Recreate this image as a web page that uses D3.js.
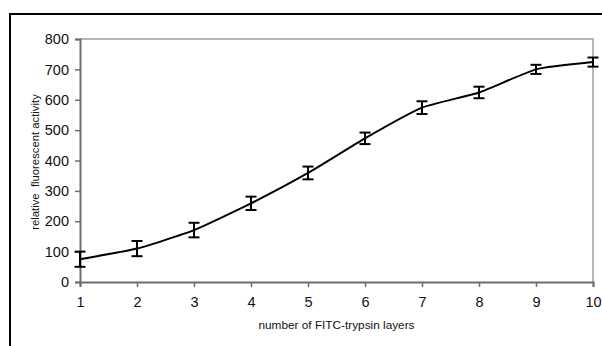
<!DOCTYPE html>
<html>
<head>
<meta charset="utf-8">
<script src="https://cdn.jsdelivr.net/npm/d3@7"></script>
<style>
  body { margin: 0; background: #fff; }
  svg { display: block; font-family: Arial, "Liberation Sans", sans-serif; }
</style>
</head>
<body>
<svg id="chart" width="602" height="346"></svg>
<script>
const layers = [1, 2, 3, 4, 5, 6, 7, 8, 9, 10];
const activity = [75, 110, 171, 259, 359, 473, 574, 624, 700, 724];
const errors = [25, 25, 24, 22, 21, 19, 21, 19, 15, 15];
const yTicks = [0, 100, 200, 300, 400, 500, 600, 700, 800];

const svg = d3.select('#chart'),
  margin = { top: 39, right: 9, bottom: 64, left: 80 },
  width = 602 - margin.left - margin.right,
  height = 346 - margin.top - margin.bottom;

// outer frame
svg.append('rect')
  .attr('x', 10).attr('y', 14)
  .attr('width', 620).attr('height', 360)
  .attr('fill', 'none')
  .attr('stroke', '#000')
  .attr('stroke-width', 2);

const g = svg.append('g').attr('transform', 'translate(' + margin.left + ',' + margin.top + ')');

const x = d3.scaleLinear().domain([1, 10]).range([0, width]);
const y = d3.scaleLinear().domain([0, 800]).range([height, 0]);

// plot area border (top + right)
g.append('path')
  .attr('d', 'M0,0H' + width + 'V' + height)
  .attr('fill', 'none')
  .attr('stroke', '#a0a0a0')
  .attr('stroke-width', 1.5);

const yAxis = g.append('g')
  .call(d3.axisLeft(y).tickValues(yTicks).tickSize(5).tickPadding(6));
const xAxis = g.append('g')
  .attr('transform', 'translate(0,' + height + ')')
  .call(d3.axisBottom(x).tickValues(layers).tickSize(5).tickPadding(10));

[yAxis, xAxis].forEach(function(ax) {
  ax.select('.domain').attr('stroke', '#6e6e6e').attr('stroke-width', 2);
  ax.selectAll('.tick line').attr('stroke', '#6e6e6e').attr('stroke-width', 1.5);
  ax.selectAll('.tick text')
    .attr('fill', '#111')
    .style('font-size', '14.5px')
    .style('font-family', 'Arial, "Liberation Sans", sans-serif');
});

const data = layers.map(function(d, i) { return { x: d, y: activity[i], e: errors[i] }; });

// error bars
const eb = g.selectAll('.err')
  .data(data)
  .enter()
  .append('g')
  .attr('class', 'err')
  .attr('stroke', '#000')
  .attr('stroke-width', 2)
  .attr('fill', 'none');
eb.append('line')
  .attr('x1', function(d) { return x(d.x); })
  .attr('x2', function(d) { return x(d.x); })
  .attr('y1', function(d) { return y(d.y - d.e); })
  .attr('y2', function(d) { return y(d.y + d.e); });
eb.append('line')
  .attr('x1', function(d) { return x(d.x) - 5.5; })
  .attr('x2', function(d) { return x(d.x) + 5.5; })
  .attr('y1', function(d) { return y(d.y + d.e); })
  .attr('y2', function(d) { return y(d.y + d.e); });
eb.append('line')
  .attr('x1', function(d) { return x(d.x) - 5.5; })
  .attr('x2', function(d) { return x(d.x) + 5.5; })
  .attr('y1', function(d) { return y(d.y - d.e); })
  .attr('y2', function(d) { return y(d.y - d.e); });

// lightly smoothed line
const line = d3.line()
  .x(function(d) { return x(d.x); })
  .y(function(d) { return y(d.y); })
  .curve(d3.curveCardinal.tension(0.5));
g.append('path')
  .datum(data)
  .attr('d', line)
  .attr('fill', 'none')
  .attr('stroke', '#000')
  .attr('stroke-width', 2);

// axis titles
svg.append('text')
  .attr('x', margin.left + width / 2)
  .attr('y', 329)
  .attr('text-anchor', 'middle')
  .style('font-size', '11.8px')
  .attr('fill', '#111')
  .text('number of FITC-trypsin layers');

svg.append('text')
  .attr('transform', 'translate(39,162) rotate(-90)')
  .attr('text-anchor', 'middle')
  .style('font-size', '11.3px')
  .style('white-space', 'pre')
  .attr('fill', '#111')
  .text('relative  fluorescent activity');
</script>
</body>
</html>
